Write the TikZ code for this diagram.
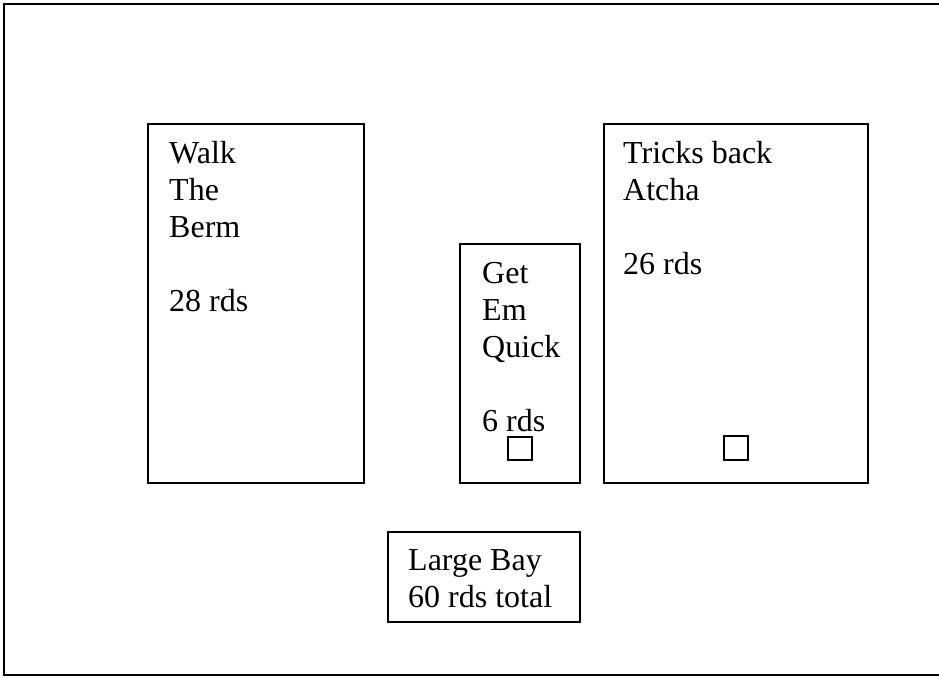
\documentclass[tikz,border=0pt]{standalone}
\usepackage{fontspec}
\setmainfont{Liberation Serif}
\begin{document}
\begin{tikzpicture}[x=1pt,y=-1pt,
  boxline/.style={draw=black,line width=2pt},
  tick/.style={draw=black,line width=1.6pt},
  lbl/.style={inner sep=0pt,anchor=north west,align=left,
    font=\fontsize{32}{37}\selectfont}]
\useasboundingbox (0,0) rectangle (939,677);
\draw[boxline] (945,4) -- (4,4) -- (4,675) -- (945,675);
% boxes
\draw[boxline] (148,124) rectangle (364,483);
\draw[boxline] (460,244) rectangle (580,483);
\draw[boxline] (604,124) rectangle (868,483);
\draw[boxline] (388,532) rectangle (580,622);
% small squares
\draw[tick] (508,437) rectangle (532,460);
\draw[tick] (724,436) rectangle (748,460);
% labels (top = baseline - 25.9)
\node[lbl] (walk) at (169,137.1) {\strut Walk\\The\\Berm\\[37pt]28 rds};
\node[lbl] (get) at (482,257.1) {\strut Get\\Em\\Quick\\[37pt]6 rds};
\node[lbl] (tricks) at (623,137.1) {\strut Tricks back\\Atcha\\[37pt]26 rds};
\node[lbl] (bay) at (408,544.1) {\strut Large Bay\\60 rds total};
\end{tikzpicture}
\end{document}
